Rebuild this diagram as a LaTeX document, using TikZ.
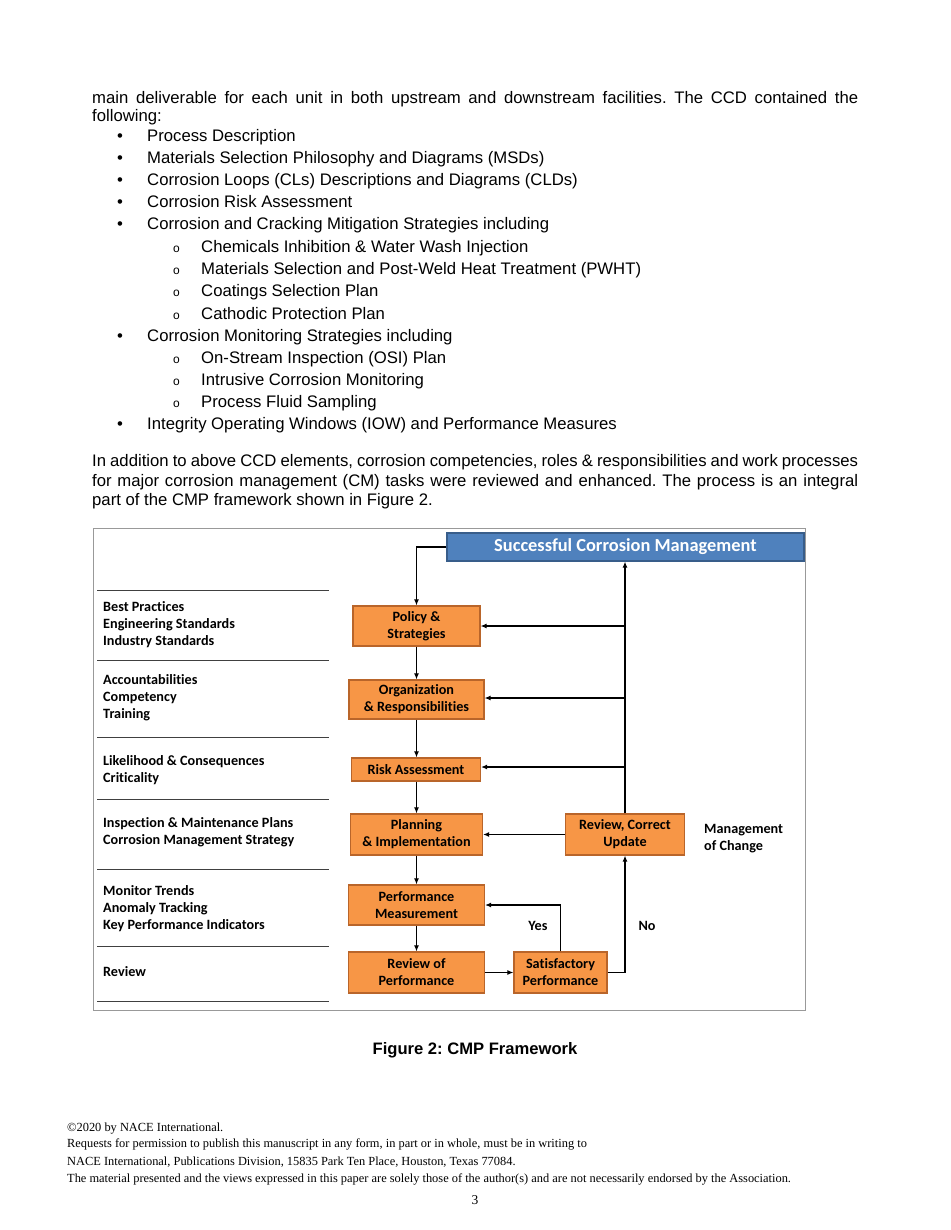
\documentclass[tikz,border=0pt]{standalone}
\usepackage{fontspec}
\setmainfont{Liberation Sans}
\newfontfamily\carlito[Ligatures=NoCommon]{Carlito}
\newfontfamily\timesf{Liberation Serif}
\usetikzlibrary{arrows.meta}
\frenchspacing
\definecolor{orfill}{HTML}{F79646}
\definecolor{orborder}{HTML}{B9652A}
\definecolor{blfill}{HTML}{4F81BD}
\definecolor{blborder}{HTML}{385D8A}
\tikzset{
  body/.style={anchor=base west, inner sep=0pt, font=\fontsize{16.7}{19}\selectfont},
  lbl/.style={anchor=base west, inner sep=0pt, font=\carlito\bfseries\fontsize{14.2}{17}\selectfont},
  foot/.style={anchor=base west, inner sep=0pt, font=\timesf\fontsize{12.4}{14}\selectfont},
  obox/.style={draw=orborder, fill=orfill, line width=1.2pt, inner sep=0pt, align=center,
     font=\carlito\bfseries\fontsize{14.2}{17}\selectfont},
  arr/.style={line width=1.1pt, -{Latex[length=6pt,width=5pt]}},
  sep/.style={draw=black!75, line width=0.9pt},
}
\begin{document}
\begin{tikzpicture}[x=1pt,y=-1pt]
\useasboundingbox[fill=white] (0,0) rectangle (950,1230);
% ---------- body text ----------
\node[body] (l1) at (92,104) {\makebox[766pt][s]{main deliverable for each unit in both upstream and downstream facilities. The CCD contained the}};
\node[body] (l2) at (92,122) {following:};
\foreach \y/\t in {142/Process Description,
  164/Materials Selection Philosophy and Diagrams (MSDs),
  186/Corrosion Loops (CLs) Descriptions and Diagrams (CLDs),
  208/Corrosion Risk Assessment,
  230/Corrosion and Cracking Mitigation Strategies including,
  341/Corrosion Monitoring Strategies including,
  429/Integrity Operating Windows (IOW) and Performance Measures}{
  \node[body] at (117,\y) {\textbullet};
  \node[body] at (147,\y) {\t};
}
\foreach \y/\t in {253/Chemicals Inhibition \& Water Wash Injection,
  275/Materials Selection and Post-Weld Heat Treatment (PWHT),
  297/Coatings Selection Plan,
  319/Cathodic Protection Plan,
  363/On-Stream Inspection (OSI) Plan,
  385/Intrusive Corrosion Monitoring,
  407/Process Fluid Sampling}{
  \node[body, font=\fontsize{12}{12}\selectfont] at (173,\y) {o};
  \node[body] at (201,\y) {\t};
}
\node[body] (p1) at (92,466) {\makebox[766pt][s]{In addition to above CCD elements, corrosion competencies, roles \& responsibilities and work processes}};
\node[body] (p2) at (92,486) {\makebox[766pt][s]{for major corrosion management (CM) tasks were reviewed and enhanced. The process is an integral}};
\node[body] (p3) at (92,505) {part of the CMP framework shown in Figure 2.};
% ---------- figure frame ----------
\draw[black!40, line width=1pt] (93,528) rectangle (805,1010);
% left separators
\foreach \y in {590,660,737,799,869,946,1001}{
  \draw[sep] (97,\y) -- (329,\y);
}
\node[lbl] at (103,611.5) {Best Practices};
\node[lbl] at (103,628.5) {Engineering Standards};
\node[lbl] at (103,645.5) {Industry Standards};
\node[lbl] at (103,684.5) {Accountabilities};
\node[lbl] at (103,701.5) {Competency};
\node[lbl] at (103,718.5) {Training};
\node[lbl] at (103,765.5) {Likelihood \& Consequences};
\node[lbl] at (103,782.5) {Criticality};
\node[lbl] at (103,827.5) {Inspection \& Maintenance Plans};
\node[lbl] at (103,844.5) {Corrosion Management Strategy};
\node[lbl] at (103,895.5) {Monitor Trends};
\node[lbl] at (103,912.5) {Anomaly Tracking};
\node[lbl] at (103,929.5) {Key Performance Indicators};
\node[lbl] at (103,976.5) {Review};
% ---------- boxes ----------
\node[draw=blborder, fill=blfill, line width=1.2pt, minimum width=357pt, minimum height=28pt, inner sep=0pt,
  text=white, font=\carlito\bfseries\fontsize{18.4}{20}\selectfont] (scm) at (625.5,547) {Successful Corrosion Management};
\node[obox, minimum width=127pt, minimum height=40pt] (policy) at (416.5,626) {Policy \&\\Strategies};
\node[obox, minimum width=135pt, minimum height=39pt] (org) at (416.5,699.5) {Organization\\\& Responsibilities};
\node[obox, minimum width=129pt, minimum height=23pt] (risk) at (416,769.5) {Risk Assessment};
\node[obox, minimum width=132pt, minimum height=41pt] (plan) at (416.5,834.5) {Planning\\\& Implementation};
\node[obox, minimum width=136pt, minimum height=40pt] (perf) at (416.5,905) {Performance\\Measurement};
\node[obox, minimum width=136pt, minimum height=41pt] (revof) at (416.5,972.5) {Review of\\Performance};
\node[obox, minimum width=93pt, minimum height=41pt] (sat) at (560.5,972.5) {Satisfactory\\Performance};
\node[obox, minimum width=119pt, minimum height=41pt] (revc) at (625,834.5) {Review, Correct\\Update};
\node[lbl] (moc1) at (704,833.5) {Management};
\node[lbl] (moc2) at (704,850.5) {of Change};
\node[lbl, anchor=center] (yes) at (538,926) {Yes};
\node[lbl, anchor=center] (no) at (647,926) {No};
% ---------- connectors ----------
\draw[arr] (scm.west) -| (policy.north);
\draw[arr] (policy.south) -- (org.north);
\draw[arr] (org.south) -- (risk.north -| org.south);
\draw[arr] (risk.south -| org.south) -- (plan.north -| org.south);
\draw[arr] (plan.south -| org.south) -- (perf.north -| org.south);
\draw[arr] (perf.south -| org.south) -- (revof.north -| org.south);
\draw[arr] (revof.east) -- (sat.west);
\draw[arr] (sat.north) |- (perf.east);
\draw[arr] (sat.east) -| (revc.south);
\draw[arr] (revc.west) -- (plan.east);
\draw[arr] (revc.north) -- (revc.north |- scm.south);
\draw[arr] (revc.north |- policy.east) -- (policy.east);
\draw[arr] (revc.north |- 0,698) -- (org.east |- 0,698);
\draw[arr] (revc.north |- 0,767) -- (risk.east |- 0,767);
% ---------- caption & footer ----------
\node[anchor=base, inner sep=0pt, font=\bfseries\fontsize{16.6}{18}\selectfont] (cap) at (475,1054) {Figure 2: CMP Framework};
\node[foot] (f1) at (67,1131) {©2020 by NACE International.};
\node[foot] (f2) at (67,1147) {Requests for permission to publish this manuscript in any form, in part or in whole, must be in writing to};
\node[foot] (f3) at (67,1165) {NACE International, Publications Division, 15835 Park Ten Place, Houston, Texas 77084.};
\node[foot] (f4) at (67,1182) {The material presented and the views expressed in this paper are solely those of the author(s) and are not necessarily endorsed by the Association.};
\node[anchor=base, inner sep=0pt, font=\timesf\fontsize{13.5}{15}\selectfont] (pg) at (475,1204) {3};
\end{tikzpicture}
\end{document}
